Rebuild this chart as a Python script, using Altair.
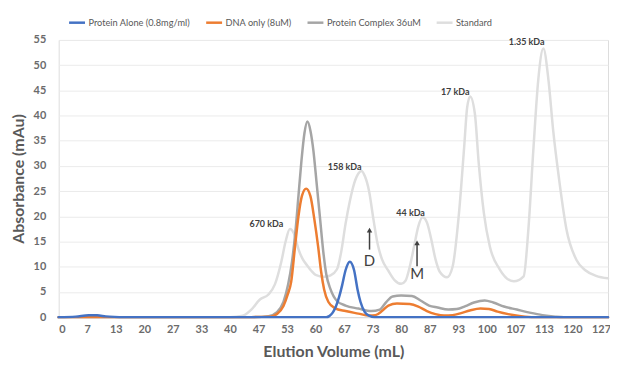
import altair as alt
import pandas as pd

# ---------------- data ----------------
series_names = ["Protein Alone (0.8mg/ml)", "DNA only (8uM)", "Protein Complex 36uM", "Standard"]
series_colors = ["#4472C4", "#ED7D31", "#A5A5A5", "#DEDEDE"]
series_widths = [2.5, 2.5, 2.5, 1.2]

protein_x = [0, 4, 7, 9, 11, 13, 15, 62.5, 63.2, 64, 64.7, 65.5, 66.2, 67, 68, 69, 69.8, 70.5, 71.5, 72.5, 73.8, 128.3]
protein_y = [0, 0.1, 0.35, 0.35, 0.15, 0.05, 0, 0, 0.2, 0.9, 2.0, 4.0, 6.3, 9.3, 11.0, 9.3, 5.5, 3.0, 1.0, 0.3, 0, 0]

dna_x = [0, 45, 49.5, 51, 52.5, 53.5, 54.3, 55.2, 56, 56.8, 57.8, 58.8, 59.7, 60.6, 61.3, 62, 63, 64.5, 67, 70, 72.5,
         74, 75.5, 77, 79, 82, 84, 86, 88, 90, 92, 94, 96, 98.5, 100.5, 102.5, 105, 108, 111, 128.3]
dna_y = [0, 0, 0.1, 0.6, 2.2, 4.5, 7.0, 14.0, 20.0, 24.0, 25.5, 24.0, 19.5, 14.0, 9.0, 5.5, 3.0, 1.8, 1.2, 0.7, 0.3,
         0.4, 1.2, 2.3, 2.7, 2.6, 2.1, 1.2, 0.6, 0.3, 0.4, 0.8, 1.3, 1.7, 1.6, 1.1, 0.6, 0.2, 0, 0]

complex_x = [0, 45, 49, 51, 52.5, 53.6, 54.5, 55.3, 56, 56.7, 57.4, 58.1, 58.8, 59.5, 60.2, 61, 61.8, 62.5, 63.5, 65,
             67, 70, 73, 75, 76.5, 78, 80, 82.5, 84.5, 86.5, 88.5, 91, 93, 95, 97, 99.5, 101.5, 104, 107, 110, 113,
             116, 118, 128.3]
complex_y = [0, 0, 0.2, 1.0, 3.0, 6.5, 11.0, 17.0, 24.0, 31.0, 36.5, 38.8, 37.0, 33.0, 27.0, 20.0, 13.0, 8.5, 5.5, 3.2,
             2.3, 1.7, 1.2, 1.5, 3.0, 4.1, 4.3, 4.2, 3.3, 2.3, 1.9, 1.5, 1.6, 2.2, 2.9, 3.3, 2.9, 2.1, 1.5, 0.9, 0.4,
             0.1, 0, 0]

standard_x = [0, 40, 43, 45, 47, 49, 50.5, 52, 53, 54, 55, 56, 57, 58, 59, 60, 62, 63.5, 65, 66, 67, 68, 69, 70, 70.7,
              71.5, 72.5, 73.5, 74.5, 75.5, 77, 78.5, 80, 81, 82, 83, 84, 85, 86, 87, 88, 89, 90.7, 92, 93.5, 94.7,
              95.4, 96.1, 97.2, 98.1, 99.3, 100.7, 103, 106.3, 108.6, 109.7, 110.9, 112, 113.2, 114.4, 115.5, 116.9,
              118.6, 120.9, 123, 125.5, 128.3]
standard_y = [0, 0, 0.3, 1.5, 3.5, 4.5, 6.5, 11.0, 15.0, 17.5, 16.5, 13.5, 11.5, 10.3, 9.2, 8.4, 8.0, 8.3, 9.5, 13.0,
              18.5, 23.0, 26.5, 28.5, 29.0, 28.0, 25.0, 19.5, 14.5, 11.5, 9.2, 7.3, 6.6, 7.2, 10.0, 14.0, 18.0, 19.8,
              18.8, 15.5, 11.5, 9.0, 7.9, 10.0, 20.7, 33.7, 41.6, 43.8, 40.4, 30.6, 20.7, 14.0, 9.5, 7.1, 8.1, 17.4,
              33.7, 47.0, 53.3, 47.0, 37.0, 27.2, 17.4, 11.4, 9.3, 8.2, 7.7]

x_tick_values = [round(k * 20 / 3, 4) for k in range(20)]
y_tick_values = [0, 5, 10, 15, 20, 25, 30, 35, 40, 45, 50, 55]

peak_labels = ["670 kDa", "158 kDa", "44 kDa", "17 kDa", "1.35 kDa"]
peak_label_x = [48.5, 66.8, 82.2, 92.6, 109.3]
peak_label_y = [18.5, 29.7, 20.6, 44.6, 54.5]

arrow_labels = ["D", "M"]
arrow_x = [72.6, 83.7]
arrow_bottom = [13.4, 10.1]
arrow_tip = [18.0, 15.5]
arrow_label_y = [11.1, 8.5]

# ---------------- tables ----------------
rows = []
for name, xs, ys in [(series_names[0], protein_x, protein_y), (series_names[1], dna_x, dna_y),
                     (series_names[2], complex_x, complex_y), (series_names[3], standard_x, standard_y)]:
    for xv, yv in zip(xs, ys):
        rows.append({"series": name, "x": xv, "y": yv})
df = pd.DataFrame(rows)

peaks = pd.DataFrame({"label": peak_labels, "x": peak_label_x, "y": peak_label_y})
arrows = pd.DataFrame({"label": arrow_labels, "x": arrow_x, "y0": arrow_bottom, "y1": arrow_tip,
                       "yl": arrow_label_y})
arrows["yhead"] = arrows["y1"] - 0.75

FONT = "Lato"
x_scale = alt.Scale(domain=[0, 128.3], nice=False, zero=False)
y_scale = alt.Scale(domain=[0, 55], nice=False)

color_enc = alt.Color("series:N", scale=alt.Scale(domain=series_names, range=series_colors),
                      legend=alt.Legend(title=None, orient="none", direction="horizontal",
                                        legendX=9, legendY=-27, symbolType="stroke", symbolSize=256,
                                        symbolStrokeWidth=2.5, labelFont=FONT, labelFontSize=9.3,
                                        labelColor="#595959", columnPadding=10, labelOffset=2, padding=0))
width_enc = alt.StrokeWidth("series:N", scale=alt.Scale(domain=series_names, range=series_widths), legend=None)

x_enc = alt.X("x:Q", scale=x_scale,
              axis=alt.Axis(title="Elution Volume (mL)", values=x_tick_values, tickCount=40,
                            labelExpr="round(datum.value)",
                            labelOverlap=False, grid=False, ticks=False, domain=True, domainColor="#D9D9D9",
                            domainWidth=1, labelFont=FONT, labelFontSize=11, labelFontWeight="bold",
                            labelColor="#6B6B6B", labelPadding=6, titleFont=FONT, titleFontSize=16,
                            titleFontWeight="bold", titleColor="#595959", titlePadding=10))
y_enc = alt.Y("y:Q", scale=y_scale,
              axis=alt.Axis(title="Absorbance (mAu)", values=y_tick_values, tickCount=30, labelOverlap=False,
                            grid=True, gridColor="#EBEBEB", ticks=False, domain=False, labelFont=FONT,
                            labelFontSize=11, labelFontWeight="bold", labelColor="#6B6B6B", labelPadding=13,
                            titleFont=FONT, titleFontSize=16, titleFontWeight="bold", titleColor="#595959",
                            titlePadding=7))

layers = []
for name in ["Standard", "Protein Complex 36uM", "DNA only (8uM)", "Protein Alone (0.8mg/ml)"]:
    layers.append(
        alt.Chart(df).transform_filter(alt.datum.series == name)
        .mark_line(interpolate="monotone", strokeCap="round", strokeJoin="round")
        .encode(x=x_enc, y=y_enc, color=color_enc, strokeWidth=width_enc)
    )

peak_text = alt.Chart(peaks).mark_text(font=FONT, fontSize=9, fontWeight="bold", color="#404040",
                                       baseline="middle", align="center").encode(
    x=alt.X("x:Q", scale=x_scale), y=alt.Y("y:Q", scale=y_scale), text="label:N")

arrow_rule = alt.Chart(arrows).mark_rule(color="#404040", strokeWidth=1.5).encode(
    x=alt.X("x:Q", scale=x_scale), y=alt.Y("y0:Q", scale=y_scale), y2="yhead:Q")
arrow_head = alt.Chart(arrows).mark_point(shape="triangle-up", filled=True, color="#404040", size=30,
                                          opacity=1).encode(
    x=alt.X("x:Q", scale=x_scale), y=alt.Y("yhead:Q", scale=y_scale))
arrow_text = alt.Chart(arrows).mark_text(font=FONT, fontSize=15, color="#404040", baseline="middle",
                                         align="center").encode(
    x=alt.X("x:Q", scale=x_scale), y=alt.Y("yl:Q", scale=y_scale), text="label:N")

chart = alt.layer(*layers, peak_text, arrow_rule, arrow_head, arrow_text).properties(
    width=553, height=279,
    autosize=alt.AutoSizeParams(type="none"),
    padding={"left": 51, "top": 31, "right": 2, "bottom": 45},
).configure_view(stroke=None).configure(background="white")

chart.save("out.html", embed_options={"renderer": "svg", "actions": False})
